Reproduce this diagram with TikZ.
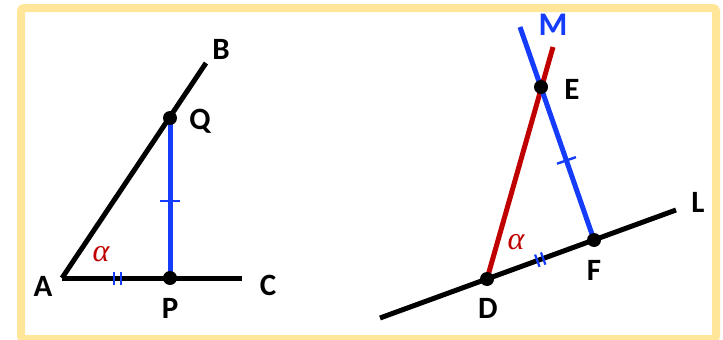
\documentclass[tikz,border=0pt]{standalone}
\usepackage{fontspec}
\setmainfont{Carlito}
\newfontfamily\greekf{Liberation Serif}
\begin{document}
\begin{tikzpicture}[x=1pt,y=-1pt,
  seg/.style={line width=5pt},
  blk/.style={seg,black},
  blu/.style={seg,myblue},
  redl/.style={seg,myred},
  dot/.style={circle,fill=black,inner sep=0pt,minimum size=14pt},
  lab/.style={font=\fontsize{31}{33}\selectfont\bfseries,text=black,inner sep=0pt},
  alph/.style={font=\fontsize{32}{34}\selectfont\greekf\itshape,text=myred,inner sep=0pt},
  tickmark/.style={sloped,fill=myblue,inner sep=0pt,minimum width=2.4pt,minimum height=20pt},
  smalltick/.style={sloped,fill=myblue,inner sep=0pt,minimum width=2.2pt,minimum height=13pt}
]
\definecolor{myblue}{RGB}{20,60,250}
\definecolor{myred}{RGB}{192,0,0}
\definecolor{myyellow}{RGB}{255,230,153}
\useasboundingbox (0,0) rectangle (723,340);
\draw[myyellow,line width=8pt,rounded corners=3pt] (21,8) rectangle (716,339);

% Left figure
\coordinate (A) at (62,278);
\coordinate (C) at (242,278);
\coordinate (P) at (170,278);
\coordinate (Q) at (170,118);
\coordinate (B) at (206,63);
\draw[blk] (A) -- (C);
\draw[blk] (A) -- (B);
\draw[blu] (P) -- (Q);
\path (P) -- (Q) node[tickmark,pos=0.48] (t1) {};
\path (A) -- (P) node[smalltick,pos=0.485] (t2) {} node[smalltick,pos=0.545] (t3) {};
\node[dot] (Pd) at (P) {};
\node[dot] (Qd) at (Q) {};
\node[lab] (lA) at (43,286) {A};
\node[lab] (lP) at (170,308) {P};
\node[lab] (lC) at (268,285) {C};
\node[lab] (lQ) at (200,121) {Q};
\node[lab] (lB) at (221,49) {B};
\node[alph] (a1) at (101,254) {α};

% Right figure
\coordinate (L1) at (380,318);
\coordinate (L2) at (676,210);
\coordinate (D) at (487,279);
\coordinate (F) at (594,240);
\coordinate (E) at (541,87);
\coordinate (Mt) at (520,27);
\coordinate (Rt) at (553,47);
\draw[blk] (L1) -- (L2);
\draw[redl] (D) -- (Rt);
\draw[blu] (Mt) -- (F);
\path (E) -- (F) node[tickmark,pos=0.48] (t4) {};
\path (D) -- (F) node[smalltick,pos=0.47] (t5) {} node[smalltick,pos=0.525] (t6) {};
\node[dot] (Dd) at (D) {};
\node[dot] (Fd) at (F) {};
\node[dot] (Ed) at (E) {};
\node[lab,font=\fontsize{33}{35}\selectfont\bfseries,text=myblue] (lM) at (553,25) {M};
\node[lab] (lE) at (572,89) {E};
\node[lab] (lL) at (698,202) {L};
\node[lab] (lD) at (488,308) {D};
\node[lab] (lF) at (594,270) {F};
\node[alph] (a2) at (516,242) {α};
\end{tikzpicture}
\end{document}
